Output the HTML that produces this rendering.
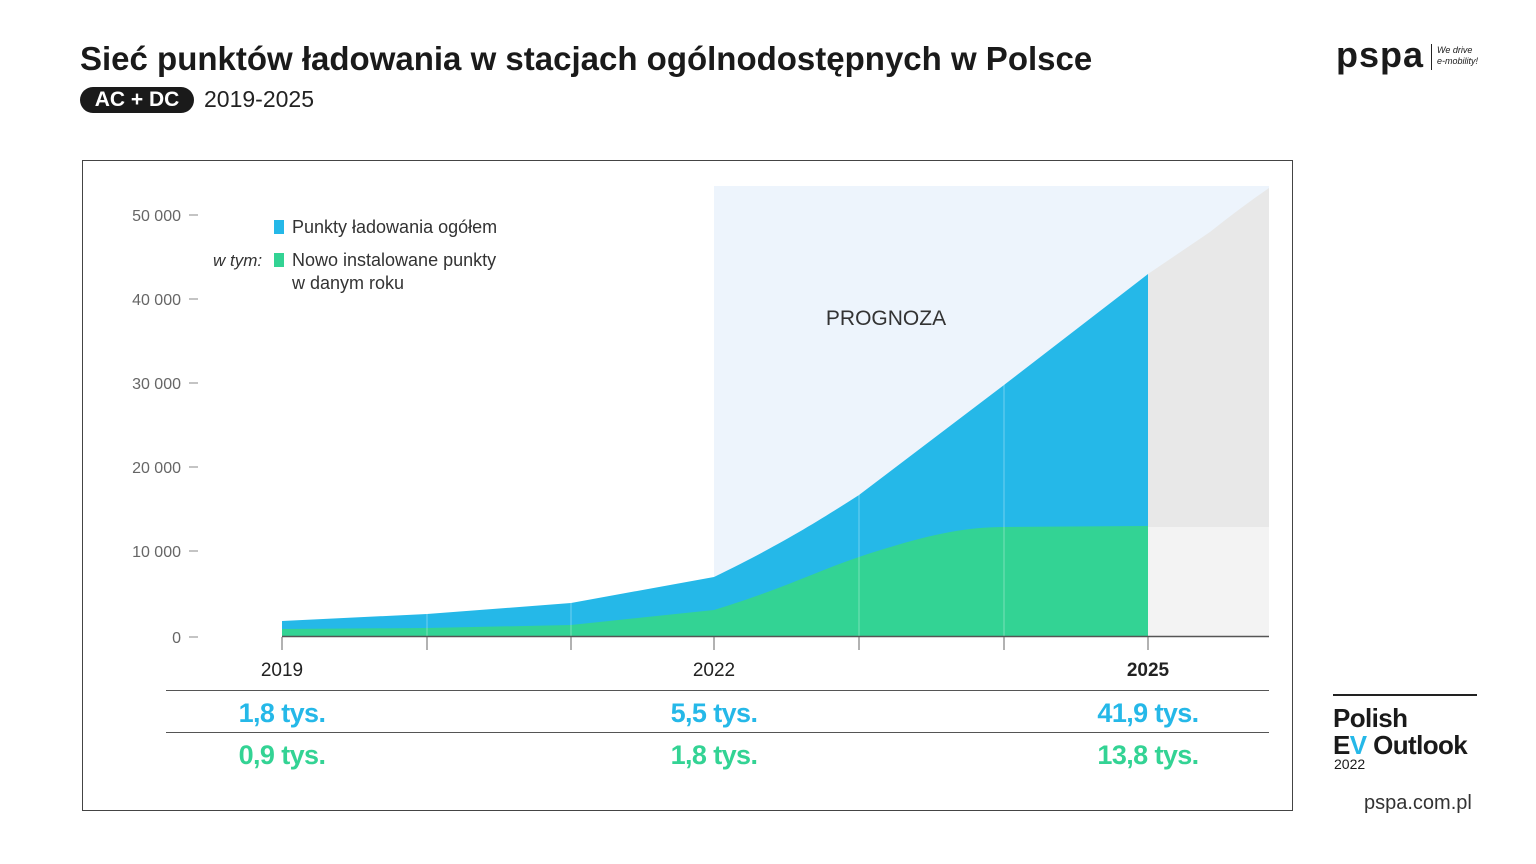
<!DOCTYPE html>
<html><head><meta charset="utf-8"><style>
body{margin:0;width:1536px;height:864px;background:#fff;font-family:"Liberation Sans",sans-serif;position:relative;overflow:hidden;color:#1a1a1a}
.a{position:absolute;white-space:nowrap}
</style></head><body>
<div class="a" style="left:80px;top:40px;font-size:33px;font-weight:bold;letter-spacing:0px">Sieć punktów ładowania w stacjach ogólnodostępnych w Polsce</div>
<div class="a" style="left:80px;top:87px;width:114px;height:26px;border-radius:13px;background:#1a1a1a;color:#fff;font-size:21px;line-height:26px;text-align:center;font-weight:bold">AC + DC</div>
<div class="a" style="left:204px;top:86px;font-size:23px;color:#222">2019-2025</div>
<div class="a" style="left:1336px;top:34px;font-size:36px;font-weight:bold;letter-spacing:1px">pspa</div>
<div class="a" style="left:1431px;top:44px;width:1px;height:26px;background:#222"></div>
<div class="a" style="left:1437px;top:45px;font-size:9px;font-style:italic;line-height:11px">We drive<br>e-mobility!</div>
<svg class="a" style="left:0;top:0" width="1536" height="864">
<rect x="82.5" y="160.5" width="1210" height="650" fill="none" stroke="#444" stroke-width="1"/>
<rect x="714" y="186" width="555" height="450" fill="#edf4fc"/>
<path d="M1148 274 L1210 232 Q1240 208 1269 188 L1269 636 L1148 636 Z" fill="#e8e8e8"/>
<rect x="1148" y="527" width="121" height="109" fill="#f3f3f3"/>
<path d="M282 621 L427 614 L571 603 L714 577 C780 545 820 520 859 495 L1004 385 L1148 274 L1148 636 L282 636 Z" fill="#25b8e8"/>
<path d="M282 629 L427 628 L571 625 L714 610 C780 590 820 570 859 557 C920 537 960 527 1004 527 L1148 526 L1148 636 L282 636 Z" fill="#33d394"/>
<g stroke="#fff" stroke-opacity="0.35"><line x1="427" y1="612" x2="427" y2="636"/><line x1="571" y1="602" x2="571" y2="636"/><line x1="859" y1="493" x2="859" y2="636"/><line x1="1004" y1="383" x2="1004" y2="636"/></g>
<line x1="282" y1="636.5" x2="1269" y2="636.5" stroke="#555" stroke-width="1.5"/>
<g stroke="#666"><line x1="282" y1="637" x2="282" y2="650"/><line x1="427" y1="637" x2="427" y2="650"/><line x1="571" y1="637" x2="571" y2="650"/><line x1="714" y1="637" x2="714" y2="650"/><line x1="859" y1="637" x2="859" y2="650"/><line x1="1004" y1="637" x2="1004" y2="650"/><line x1="1148" y1="637" x2="1148" y2="650"/></g>
<g stroke="#888"><line x1="189" y1="215" x2="198" y2="215"/><line x1="189" y1="299" x2="198" y2="299"/><line x1="189" y1="383" x2="198" y2="383"/><line x1="189" y1="467" x2="198" y2="467"/><line x1="189" y1="551" x2="198" y2="551"/><line x1="189" y1="637" x2="198" y2="637"/></g>
<g font-size="16" fill="#666" text-anchor="end" font-family="Liberation Sans"><text x="181" y="221">50 000</text><text x="181" y="305">40 000</text><text x="181" y="389">30 000</text><text x="181" y="473">20 000</text><text x="181" y="557">10 000</text><text x="181" y="643">0</text></g>
<g font-size="19" fill="#222" text-anchor="middle" font-family="Liberation Sans"><text x="282" y="676">2019</text><text x="714" y="676">2022</text><text x="1148" y="676" font-weight="bold">2025</text></g>
<line x1="166" y1="690.5" x2="1269" y2="690.5" stroke="#555"/>
<line x1="166" y1="732.5" x2="1269" y2="732.5" stroke="#555"/>
<g font-size="27" font-weight="bold" text-anchor="middle" font-family="Liberation Sans" letter-spacing="-0.6"><g fill="#25b8e8"><text x="282" y="722">1,8 tys.</text><text x="714" y="722">5,5 tys.</text><text x="1148" y="722">41,9 tys.</text></g><g fill="#33d394"><text x="282" y="764">0,9 tys.</text><text x="714" y="764">1,8 tys.</text><text x="1148" y="764">13,8 tys.</text></g></g>
<rect x="274" y="220" width="10" height="14" fill="#25b8e8"/>
<rect x="274" y="253" width="10" height="14" fill="#33d394"/>
<g font-size="18" fill="#333" font-family="Liberation Sans"><text x="292" y="233">Punkty ładowania ogółem</text><text x="292" y="266">Nowo instalowane punkty</text><text x="292" y="289">w danym roku</text><text x="213" y="266" font-style="italic" font-size="17">w tym:</text></g>
<text x="886" y="325" font-size="21" fill="#333" text-anchor="middle" font-family="Liberation Sans">PROGNOZA</text>
<line x1="1333" y1="695" x2="1477" y2="695" stroke="#222" stroke-width="2"/>
</svg>
<div class="a" style="left:1333px;top:705px;font-size:26px;font-weight:bold;line-height:27px;letter-spacing:-0.6px">Polish<br>E<span style="color:#25b8e8">V</span> Outlook</div>
<div class="a" style="left:1334px;top:756px;font-size:14px">2022</div>
<div class="a" style="left:1364px;top:792px;font-size:20px;color:#333">pspa.com.pl</div>
</body></html>
